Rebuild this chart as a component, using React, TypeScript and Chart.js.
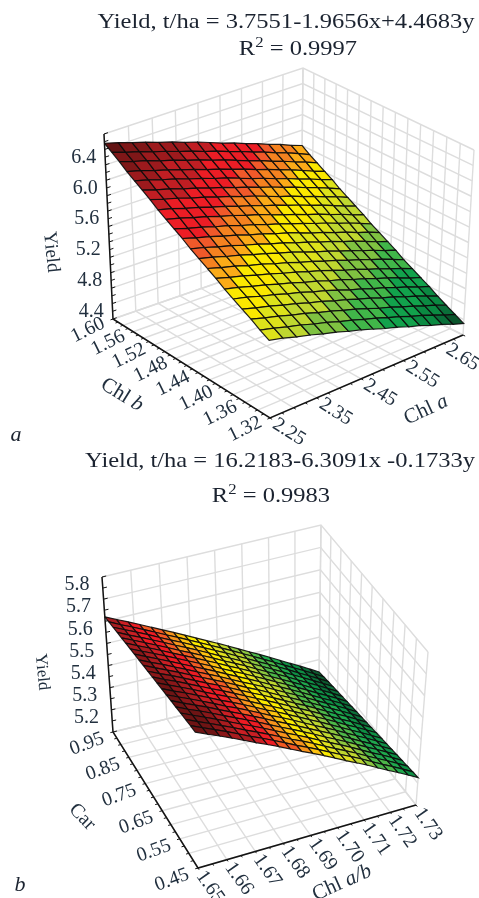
import React, { useEffect, useRef } from "react";
import { Chart, registerables } from "chart.js";

Chart.register(...registerables);

// ---------- Panel a data ----------
const chlATicks = [2.25, 2.35, 2.45, 2.55, 2.65];
const chlBTicks = [1.32, 1.36, 1.4, 1.44, 1.48, 1.52, 1.56, 1.6];
const yieldATicks = [4.4, 4.8, 5.2, 5.6, 6.0, 6.4];
const yieldAGrid = [
  [6.48, 6.43, 6.37, 6.32, 6.26, 6.21, 6.15, 6.1, 6.04, 5.98, 5.93, 5.87, 5.82, 5.76, 5.71, 5.65, 5.6],
  [6.42, 6.36, 6.31, 6.25, 6.2, 6.14, 6.09, 6.03, 5.98, 5.92, 5.87, 5.81, 5.76, 5.7, 5.65, 5.59, 5.53],
  [6.36, 6.3, 6.25, 6.19, 6.14, 6.08, 6.03, 5.97, 5.92, 5.86, 5.8, 5.75, 5.69, 5.64, 5.58, 5.53, 5.47],
  [6.29, 6.24, 6.18, 6.13, 6.07, 6.02, 5.96, 5.91, 5.85, 5.8, 5.74, 5.69, 5.63, 5.58, 5.52, 5.46, 5.41],
  [6.23, 6.18, 6.12, 6.07, 6.01, 5.96, 5.9, 5.85, 5.79, 5.73, 5.68, 5.62, 5.57, 5.51, 5.46, 5.4, 5.35],
  [6.17, 6.11, 6.06, 6.0, 5.95, 5.89, 5.84, 5.78, 5.73, 5.67, 5.62, 5.56, 5.51, 5.45, 5.4, 5.34, 5.28],
  [6.11, 6.05, 6.0, 5.94, 5.89, 5.83, 5.78, 5.72, 5.67, 5.61, 5.55, 5.5, 5.44, 5.39, 5.33, 5.28, 5.22],
  [6.04, 5.99, 5.93, 5.88, 5.82, 5.77, 5.71, 5.66, 5.6, 5.55, 5.49, 5.44, 5.38, 5.33, 5.27, 5.21, 5.16],
  [5.98, 5.93, 5.87, 5.82, 5.76, 5.71, 5.65, 5.6, 5.54, 5.48, 5.43, 5.37, 5.32, 5.26, 5.21, 5.15, 5.1],
  [5.92, 5.86, 5.81, 5.75, 5.7, 5.64, 5.59, 5.53, 5.48, 5.42, 5.37, 5.31, 5.26, 5.2, 5.15, 5.09, 5.03],
  [5.86, 5.8, 5.75, 5.69, 5.64, 5.58, 5.53, 5.47, 5.42, 5.36, 5.3, 5.25, 5.19, 5.14, 5.08, 5.03, 4.97],
  [5.79, 5.74, 5.68, 5.63, 5.57, 5.52, 5.46, 5.41, 5.35, 5.3, 5.24, 5.19, 5.13, 5.08, 5.02, 4.96, 4.91],
  [5.73, 5.68, 5.62, 5.57, 5.51, 5.46, 5.4, 5.35, 5.29, 5.23, 5.18, 5.12, 5.07, 5.01, 4.96, 4.9, 4.85],
  [5.67, 5.61, 5.56, 5.5, 5.45, 5.39, 5.34, 5.28, 5.23, 5.17, 5.12, 5.06, 5.01, 4.95, 4.9, 4.84, 4.78],
  [5.61, 5.55, 5.5, 5.44, 5.39, 5.33, 5.28, 5.22, 5.17, 5.11, 5.05, 5.0, 4.94, 4.89, 4.83, 4.78, 4.72],
  [5.54, 5.49, 5.43, 5.38, 5.32, 5.27, 5.21, 5.16, 5.1, 5.05, 4.99, 4.94, 4.88, 4.83, 4.77, 4.71, 4.66],
  [5.48, 5.43, 5.37, 5.32, 5.26, 5.21, 5.15, 5.1, 5.04, 4.98, 4.93, 4.87, 4.82, 4.76, 4.71, 4.65, 4.6],
  [5.42, 5.36, 5.31, 5.25, 5.2, 5.14, 5.09, 5.03, 4.98, 4.92, 4.87, 4.81, 4.76, 4.7, 4.65, 4.59, 4.53],
  [5.36, 5.3, 5.25, 5.19, 5.14, 5.08, 5.03, 4.97, 4.92, 4.86, 4.8, 4.75, 4.69, 4.64, 4.58, 4.53, 4.47],
  [5.29, 5.24, 5.18, 5.13, 5.07, 5.02, 4.96, 4.91, 4.85, 4.8, 4.74, 4.69, 4.63, 4.58, 4.52, 4.46, 4.41],
  [5.23, 5.18, 5.12, 5.07, 5.01, 4.96, 4.9, 4.85, 4.79, 4.73, 4.68, 4.62, 4.57, 4.51, 4.46, 4.4, 4.35],
];

// ---------- Panel b data ----------
const chlRatioTicks = [1.65, 1.66, 1.67, 1.68, 1.69, 1.7, 1.71, 1.72, 1.73];
const carTicks = [0.45, 0.55, 0.65, 0.75, 0.85, 0.95];
const yieldBTicks = [5.2, 5.3, 5.4, 5.5, 5.6, 5.7, 5.8];
const yieldBGrid = [
  [5.62, 5.596, 5.573, 5.549, 5.525, 5.501, 5.478, 5.454, 5.43, 5.406, 5.383, 5.359, 5.335, 5.311, 5.288, 5.264, 5.24, 5.216, 5.193, 5.169, 5.145],
  [5.626, 5.601, 5.578, 5.554, 5.53, 5.506, 5.483, 5.459, 5.435, 5.411, 5.388, 5.364, 5.34, 5.316, 5.292, 5.268, 5.244, 5.22, 5.197, 5.173, 5.149],
  [5.631, 5.607, 5.584, 5.56, 5.535, 5.511, 5.488, 5.464, 5.44, 5.416, 5.393, 5.368, 5.344, 5.32, 5.297, 5.273, 5.249, 5.224, 5.201, 5.177, 5.153],
  [5.637, 5.612, 5.589, 5.565, 5.541, 5.516, 5.493, 5.469, 5.445, 5.42, 5.397, 5.373, 5.349, 5.325, 5.301, 5.277, 5.253, 5.229, 5.205, 5.181, 5.157],
  [5.642, 5.618, 5.594, 5.57, 5.546, 5.521, 5.498, 5.474, 5.45, 5.425, 5.402, 5.378, 5.353, 5.329, 5.306, 5.282, 5.257, 5.233, 5.21, 5.185, 5.161],
  [5.648, 5.623, 5.6, 5.576, 5.551, 5.527, 5.503, 5.479, 5.455, 5.43, 5.407, 5.383, 5.358, 5.334, 5.31, 5.286, 5.262, 5.237, 5.214, 5.19, 5.165],
  [5.653, 5.628, 5.605, 5.581, 5.556, 5.532, 5.508, 5.484, 5.459, 5.435, 5.412, 5.387, 5.363, 5.338, 5.315, 5.29, 5.266, 5.241, 5.218, 5.194, 5.169],
  [5.659, 5.634, 5.61, 5.586, 5.561, 5.537, 5.513, 5.489, 5.464, 5.44, 5.416, 5.392, 5.367, 5.343, 5.319, 5.295, 5.27, 5.245, 5.222, 5.198, 5.173],
  [5.664, 5.639, 5.616, 5.591, 5.567, 5.542, 5.518, 5.494, 5.469, 5.444, 5.421, 5.397, 5.372, 5.347, 5.324, 5.299, 5.274, 5.25, 5.226, 5.202, 5.177],
  [5.67, 5.645, 5.621, 5.597, 5.572, 5.547, 5.523, 5.499, 5.474, 5.449, 5.426, 5.401, 5.376, 5.352, 5.328, 5.304, 5.279, 5.254, 5.23, 5.206, 5.181],
  [5.675, 5.65, 5.627, 5.602, 5.577, 5.552, 5.529, 5.504, 5.479, 5.454, 5.431, 5.406, 5.381, 5.356, 5.333, 5.308, 5.283, 5.258, 5.235, 5.21, 5.185],
  [5.681, 5.655, 5.632, 5.607, 5.582, 5.557, 5.534, 5.509, 5.484, 5.459, 5.435, 5.411, 5.386, 5.361, 5.337, 5.312, 5.287, 5.262, 5.239, 5.214, 5.189],
  [5.686, 5.661, 5.637, 5.613, 5.587, 5.562, 5.539, 5.514, 5.489, 5.464, 5.44, 5.415, 5.39, 5.365, 5.341, 5.317, 5.292, 5.266, 5.243, 5.218, 5.193],
  [5.692, 5.666, 5.643, 5.618, 5.593, 5.567, 5.544, 5.519, 5.494, 5.468, 5.445, 5.42, 5.395, 5.37, 5.346, 5.321, 5.296, 5.271, 5.247, 5.222, 5.197],
  [5.697, 5.672, 5.648, 5.623, 5.598, 5.572, 5.549, 5.524, 5.499, 5.473, 5.45, 5.425, 5.399, 5.374, 5.35, 5.326, 5.3, 5.275, 5.251, 5.226, 5.201],
  [5.703, 5.677, 5.653, 5.629, 5.603, 5.578, 5.554, 5.529, 5.504, 5.478, 5.454, 5.429, 5.404, 5.379, 5.355, 5.33, 5.305, 5.279, 5.255, 5.23, 5.205],
  [5.708, 5.682, 5.659, 5.634, 5.608, 5.583, 5.559, 5.534, 5.508, 5.483, 5.459, 5.434, 5.409, 5.383, 5.359, 5.334, 5.309, 5.283, 5.259, 5.234, 5.209],
  [5.714, 5.688, 5.664, 5.639, 5.613, 5.588, 5.564, 5.539, 5.513, 5.488, 5.464, 5.439, 5.413, 5.388, 5.364, 5.339, 5.313, 5.287, 5.264, 5.239, 5.213],
  [5.719, 5.693, 5.669, 5.644, 5.619, 5.593, 5.569, 5.544, 5.518, 5.492, 5.469, 5.444, 5.418, 5.392, 5.368, 5.343, 5.317, 5.292, 5.268, 5.243, 5.217],
  [5.725, 5.699, 5.675, 5.65, 5.624, 5.598, 5.574, 5.549, 5.523, 5.497, 5.473, 5.448, 5.422, 5.397, 5.373, 5.348, 5.322, 5.296, 5.272, 5.247, 5.221],
  [5.73, 5.704, 5.68, 5.655, 5.629, 5.603, 5.579, 5.554, 5.528, 5.502, 5.478, 5.453, 5.427, 5.401, 5.377, 5.352, 5.326, 5.3, 5.276, 5.251, 5.225],
];

// ---------- colour bands: [lower bound, colour], high to low ----------
const bandsA: [number, string][] = [
  [6.38, "#631313"], [6.26, "#7f1718"], [6.14, "#9c1a1d"], [6.0, "#c01e23"], [5.8, "#ec1d25"],
  [5.72, "#f0592a"], [5.62, "#f58220"], [5.52, "#fbab18"], [5.36, "#fbe800"], [5.22, "#dde21b"],
  [5.08, "#bfd730"], [4.94, "#7fc241"], [4.78, "#41b649"], [4.62, "#12a24c"], [4.5, "#0b8a42"],
  [4.42, "#0a6f39"], [0, "#0a552c"],
];
const bandsB: [number, string][] = [
  [5.67, "#6e1414"], [5.64, "#8a1719"], [5.61, "#a81c1f"], [5.58, "#cb1f24"], [5.54, "#ed1c24"],
  [5.51, "#f15a24"], [5.48, "#f7941d"], [5.45, "#fcc210"], [5.42, "#fbeb00"], [5.385, "#dfe020"],
  [5.35, "#bed630"], [5.32, "#8cc63f"], [5.28, "#4db848"], [5.24, "#1fa84d"], [5.2, "#0e8f44"],
  [5.17, "#0c7039"], [0, "#0b5a2e"],
];

type Pt = [number, number];
const WIDTH = 479;
const PANEL_H = 449;
const TEXT_COL = "#22303f";
const FONT = "'Liberation Serif'";

const squareToQuad = (p00: Pt, p10: Pt, p11: Pt, p01: Pt) => {
  const dx1 = p10[0] - p11[0], dx2 = p01[0] - p11[0], sx = p00[0] - p10[0] + p11[0] - p01[0];
  const dy1 = p10[1] - p11[1], dy2 = p01[1] - p11[1], sy = p00[1] - p10[1] + p11[1] - p01[1];
  const den = dx1 * dy2 - dx2 * dy1;
  const g = (sx * dy2 - dx2 * sy) / den;
  const h = (dx1 * sy - sx * dy1) / den;
  const a = p10[0] - p00[0] + g * p10[0], b = p01[0] - p00[0] + h * p01[0];
  const d = p10[1] - p00[1] + g * p10[1], e = p01[1] - p00[1] + h * p01[1];
  return (u: number, v: number): Pt => {
    const q = g * u + h * v + 1;
    return [(a * u + b * v + p00[0]) / q, (d * u + e * v + p00[1]) / q];
  };
};

const range = (a: number, b: number, step: number) => {
  const n = Math.round((b - a) / step);
  return Array.from({ length: n + 1 }, (_, i) => a + i * step);
};

const panels = [
  {
    top: 0,
    grid: yieldAGrid, bands: bandsA,
    uRange: [2.25, 2.7], vRange: [1.6, 1.32], wRange: [4.2, 6.6],
    uStep: 0.05, vStep: 0.02, wStep: 0.2,
    uTicks: chlATicks, vTicks: chlBTicks, wTicks: yieldATicks,
    digits: { u: 2, v: 2, w: 1 },
    floor: [[113, 319], [301, 254], [463, 335], [270, 418]] as Pt[],
    roof: [[104, 134], [303, 68], [474, 150], [268, 237]] as Pt[],
    tickFont: 20,
    uLabel: { off: [19, 14], rot: 32 }, vLabel: { off: [-25, 11], rot: -26 }, wLabel: { off: [-21, 8], rot: 0 },
    titles: [
      { parts: [["Chl ", false], ["a", true]], at: [426, 410], rot: -25, size: 21 },
      { parts: [["Chl ", false], ["b", true]], at: [122, 395], rot: 32, size: 21 },
      { parts: [["Yield", false]], at: [51, 252], rot: 84, size: 19 },
    ],
    lineW: 1.2,
  },
  {
    top: 449,
    grid: yieldBGrid, bands: bandsB,
    uRange: [1.65, 1.73], vRange: [0.95, 0.45], wRange: [5.1, 5.8],
    uStep: 0.01, vStep: 0.05, wStep: 0.1,
    uTicks: chlRatioTicks, vTicks: carTicks, wTicks: yieldBTicks,
    digits: { u: 2, v: 2, w: 1 },
    floor: [[113, 732], [319, 682], [416, 805], [198, 868]] as Pt[],
    roof: [[102, 577], [321, 525], [428, 652], [195, 717]] as Pt[],
    tickFont: 20,
    uLabel: { off: [12, 19], rot: 55 }, vLabel: { off: [-26, 12], rot: -20 }, wLabel: { off: [-25, 8], rot: 0 },
    titles: [
      { parts: [["Chl ", false], ["a/b", true]], at: [342, 883], rot: -24, size: 21 },
      { parts: [["Car", false]], at: [82, 817], rot: 46, size: 20 },
      { parts: [["Yield", false]], at: [42, 672], rot: 84, size: 17 },
    ],
    lineW: 1.15,
  },
];

function Panel({ cfg }: { cfg: (typeof panels)[number] }) {
  const ref = useRef<HTMLCanvasElement>(null);
  useEffect(() => {
    const floorAt = squareToQuad(cfg.floor[0], cfg.floor[1], cfg.floor[2], cfg.floor[3]);
    const roofAt = squareToQuad(cfg.roof[0], cfg.roof[1], cfg.roof[2], cfg.roof[3]);
    const fu = (x: number) => (x - cfg.uRange[0]) / (cfg.uRange[1] - cfg.uRange[0]);
    const fv = (x: number) => (x - cfg.vRange[0]) / (cfg.vRange[1] - cfg.vRange[0]);
    const fw = (x: number) => (x - cfg.wRange[0]) / (cfg.wRange[1] - cfg.wRange[0]);
    const proj = (u: number, v: number, w: number) => {
      const a = floorAt(u, v), b = roofAt(u, v);
      return { x: a[0] + (b[0] - a[0]) * w, y: a[1] + (b[1] - a[1]) * w };
    };
    const datasets: any[] = [];
    const line = (pts: { x: number; y: number }[], color: string, width: number) =>
      datasets.push({ data: pts, showLine: true, fill: false, borderColor: color, borderWidth: width, pointRadius: 0, tension: 0 });

    const gridCol = "#dddddd";
    // walls and floor
    range(cfg.uRange[0], cfg.uRange[1], cfg.uStep).forEach((val) => {
      const u = fu(val);
      line([proj(u, 0, 0), proj(u, 0, 1)], gridCol, 1.4);
      line([proj(u, 0, 0), proj(u, 1, 0)], gridCol, 1.4);
    });
    const vDir = cfg.vRange[1] > cfg.vRange[0] ? 1 : -1;
    range(cfg.vRange[0], cfg.vRange[1], vDir * cfg.vStep).forEach((val) => {
      const v = fv(val);
      line([proj(1, v, 0), proj(1, v, 1)], gridCol, 1.4);
      line([proj(0, v, 0), proj(1, v, 0)], gridCol, 1.4);
    });
    range(cfg.wRange[0], cfg.wRange[1], cfg.wStep).forEach((val) => {
      const w = fw(val);
      line([proj(0, 0, w), proj(1, 0, w), proj(1, 1, w)], gridCol, 1.4);
    });

    // axes
    const axisCol = "#141414";
    line([proj(0, 0, 1), proj(0, 0, 0), proj(0, 1, 0), proj(1, 1, 0)], axisCol, 1.5);
    range(cfg.wRange[0], cfg.wRange[1], cfg.wStep / 2).forEach((val) =>
      line([proj(0, 0, fw(val)), proj(0.018, 0, fw(val))], axisCol, 1));
    range(cfg.uRange[0], cfg.uRange[1], cfg.uStep / 2).forEach((val) =>
      line([proj(fu(val), 1, 0), proj(fu(val), 1.012, 0)], axisCol, 1));
    range(cfg.vRange[0], cfg.vRange[1], (vDir * cfg.vStep) / 2).forEach((val) =>
      line([proj(0, fv(val), 0), proj(-0.012, fv(val), 0)], axisCol, 1));

    // surface
    const rows = cfg.grid.length - 1;
    const cols = cfg.grid[0].length - 1;
    const colourOf = (z: number) => cfg.bands.find((b) => z >= b[0])![1];
    const node = (j: number, i: number) => proj(i / cols, j / rows, fw(cfg.grid[j][i]));
    for (let j = 0; j < rows; j++) {
      for (let i = 0; i < cols; i++) {
        const mean = (cfg.grid[j][i] + cfg.grid[j][i + 1] + cfg.grid[j + 1][i] + cfg.grid[j + 1][i + 1]) / 4;
        const a = node(j, i);
        datasets.push({
          data: [a, node(j, i + 1), node(j + 1, i + 1), node(j + 1, i), a],
          showLine: true, fill: "shape",
          backgroundColor: colourOf(mean),
          borderColor: "rgba(12,12,12,0.92)",
          borderWidth: cfg.lineW, pointRadius: 0, tension: 0,
        });
      }
    }
    datasets.forEach((d, idx) => (d.order = datasets.length - idx));

    const textPlugin = {
      id: "axisText",
      afterDraw(chart: any) {
        const { ctx, scales } = chart;
        const px = (p: { x: number; y: number }) => [scales.x.getPixelForValue(p.x), scales.y.getPixelForValue(p.y)];
        const put = (txt: string, p: number[], off: number[], rot: number) => {
          ctx.save();
          ctx.translate(p[0] + off[0], p[1] + off[1]);
          ctx.rotate((rot * Math.PI) / 180);
          ctx.fillText(txt, 0, 0);
          ctx.restore();
        };
        ctx.save();
        ctx.fillStyle = TEXT_COL;
        ctx.textAlign = "center";
        ctx.textBaseline = "middle";
        ctx.font = `${cfg.tickFont}px ${FONT}`;
        cfg.wTicks.forEach((t) => put(t.toFixed(cfg.digits.w), px(proj(0, 0, fw(t))), cfg.wLabel.off, cfg.wLabel.rot));
        cfg.uTicks.forEach((t) => put(t.toFixed(cfg.digits.u), px(proj(fu(t), 1, 0)), cfg.uLabel.off, cfg.uLabel.rot));
        cfg.vTicks.forEach((t) => put(t.toFixed(cfg.digits.v), px(proj(0, fv(t), 0)), cfg.vLabel.off, cfg.vLabel.rot));
        ctx.textAlign = "left";
        cfg.titles.forEach((t: any) => {
          ctx.save();
          ctx.translate(scales.x.getPixelForValue(t.at[0]), scales.y.getPixelForValue(t.at[1]));
          ctx.rotate((t.rot * Math.PI) / 180);
          const fontOf = (it: boolean) => `${it ? "italic " : ""}${t.size}px ${FONT}`;
          let total = 0;
          t.parts.forEach((s: any) => { ctx.font = fontOf(s[1]); total += ctx.measureText(s[0]).width; });
          let x = -total / 2;
          t.parts.forEach((s: any) => {
            ctx.font = fontOf(s[1]);
            ctx.fillText(s[0], x, 0);
            x += ctx.measureText(s[0]).width;
          });
          ctx.restore();
        });
        ctx.restore();
      },
    };

    const chart = new Chart(ref.current!, {
      type: "scatter",
      data: { datasets },
      options: {
        responsive: false,
        maintainAspectRatio: false,
        animation: false,
        events: [],
        layout: { padding: 0 },
        plugins: { legend: { display: false }, tooltip: { enabled: false } },
        scales: {
          x: { type: "linear", display: false, min: 0, max: WIDTH },
          y: { type: "linear", display: false, reverse: true, min: cfg.top, max: cfg.top + PANEL_H },
        },
      },
      plugins: [textPlugin],
    } as any);
    return () => chart.destroy();
  }, [cfg]);
  return (
    <canvas
      ref={ref}
      width={WIDTH}
      height={PANEL_H}
      style={{ position: "absolute", left: 0, top: cfg.top, width: WIDTH, height: PANEL_H, display: "block" }}
    />
  );
}

const Line = ({ cx, base, size = 22, stretch = 1.115, italic = false, children }: any) => (
  <div
    style={{
      position: "absolute", left: cx - 240, width: 480, top: base - size, height: size * 1.2, lineHeight: `${size * 1.2}px`,
      textAlign: "center", fontFamily: FONT, fontSize: size, fontStyle: italic ? "italic" : "normal",
      color: "#1b2330", whiteSpace: "nowrap", transform: `scaleX(${stretch})`,
    }}
  >
    {children}
  </div>
);

const Sq = () => <span style={{ fontSize: 15, verticalAlign: 8, lineHeight: 0 }}>2</span>;

export default function App() {
  return (
    <div style={{ position: "absolute", left: 0, top: 0, width: WIDTH, height: 898, overflow: "hidden", background: "#fff", filter: "blur(0.35px)" }}>
      {panels.map((p) => (
        <Panel key={p.top} cfg={p} />
      ))}
      <Line cx={285.5} base={30}>Yield, t/ha = 3.7551-1.9656x+4.4683y</Line>
      <Line cx={298} base={57}>R<Sq /> = 0.9997</Line>
      <Line cx={16} base={443} stretch={1} italic>a</Line>
      <Line cx={280} base={469}>Yield, t/ha = 16.2183-6.3091x -0.1733y</Line>
      <Line cx={271} base={504}>R<Sq /> = 0.9983</Line>
      <Line cx={20} base={893} stretch={1} italic>b</Line>
    </div>
  );
}
